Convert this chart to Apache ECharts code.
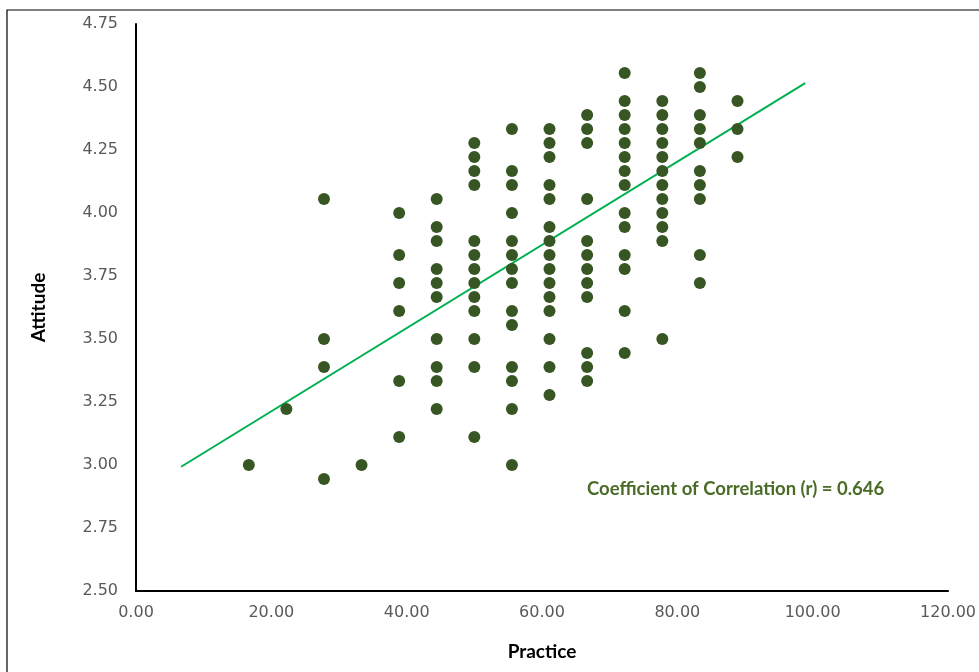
<!DOCTYPE html>
<html>
<head>
<meta charset="utf-8">
<script src="https://cdn.jsdelivr.net/npm/echarts@6/dist/echarts.min.js"></script>
<style>
html,body{margin:0;padding:0;background:#fff;}
#chart{width:979px;height:672px;}
</style>
</head>
<body>
<div id="chart"></div>
<script>
// Practice score levels (x) and the Attitude values (y) observed at each level
const practiceLevels = [16.67, 22.22, 27.78, 33.33, 38.89, 44.44, 50.00, 55.56, 61.11, 66.67, 72.22, 77.78, 83.33, 88.89];
const att_16 = [3.000];
const att_22 = [3.222];
const att_27 = [4.056, 3.500, 3.389, 2.944];
const att_33 = [3.000];
const att_38 = [4.000, 3.833, 3.722, 3.611, 3.333, 3.111];
const att_44 = [4.056, 3.944, 3.889, 3.778, 3.722, 3.667, 3.500, 3.389, 3.333, 3.222];
const att_50 = [4.278, 4.222, 4.167, 4.111, 3.889, 3.833, 3.778, 3.722, 3.667, 3.611, 3.500, 3.389, 3.111];
const att_55 = [4.333, 4.167, 4.111, 4.000, 3.889, 3.833, 3.778, 3.722, 3.611, 3.556, 3.389, 3.333, 3.222, 3.000];
const att_61 = [4.333, 4.278, 4.222, 4.111, 4.056, 3.944, 3.889, 3.833, 3.778, 3.722, 3.667, 3.611, 3.500, 3.389, 3.278];
const att_66 = [4.389, 4.333, 4.278, 4.056, 3.889, 3.833, 3.778, 3.722, 3.667, 3.444, 3.389, 3.333];
const att_72 = [4.556, 4.444, 4.389, 4.333, 4.278, 4.222, 4.167, 4.111, 4.000, 3.944, 3.833, 3.778, 3.611, 3.444];
const att_77 = [4.444, 4.389, 4.333, 4.278, 4.222, 4.167, 4.111, 4.056, 4.000, 3.944, 3.889, 3.500];
const att_83 = [4.556, 4.500, 4.389, 4.333, 4.278, 4.167, 4.111, 4.056, 3.833, 3.722];
const att_88 = [4.444, 4.333, 4.222];
const attitudeByLevel = [att_16, att_22, att_27, att_33, att_38, att_44, att_50, att_55, att_61, att_66, att_72, att_77, att_83, att_88];

// Linear trendline endpoints
const trendX = [6.67, 98.89];
const trendY = [2.993, 4.515];

const xTicks = [0, 20, 40, 60, 80, 100, 120];
const yTicks = [2.50, 2.75, 3.00, 3.25, 3.50, 3.75, 4.00, 4.25, 4.50, 4.75];

const points = [];
practiceLevels.forEach((p, i) => attitudeByLevel[i].forEach(a => points.push([p, a])));
const trend = trendX.map((x, i) => [x, trendY[i]]);

const chart = echarts.init(document.getElementById('chart'), null, {renderer: 'canvas'});
chart.setOption({
  animation: false,
  backgroundColor: '#ffffff',
  grid: {left: 136, right: 28, top: 24, bottom: 81},
  graphic: [
    {type: 'rect', shape: {x: 7, y: 10, width: 1100, height: 800},
     style: {fill: 'none', stroke: '#000', lineWidth: 1.2}, silent: true},
    {type: 'text', left: 587, top: 480,
     style: {text: 'Coefficient of Correlation (r) = 0.646', fill: '#4a6b26',
             font: 'bold 18.5px Lato, "Open Sans", sans-serif'}}
  ],
  xAxis: {
    type: 'value', min: xTicks[0], max: xTicks[xTicks.length - 1], interval: 20,
    name: 'Practice', nameLocation: 'middle', nameGap: 51,
    nameTextStyle: {fontFamily: 'Lato', fontWeight: 'bold', fontSize: 19, color: '#000'},
    axisLine: {show: true, lineStyle: {color: '#000', width: 2}},
    axisTick: {show: false},
    splitLine: {show: false},
    axisLabel: {formatter: v => v.toFixed(2), color: '#595959', fontFamily: 'DejaVu Sans', fontSize: 16, margin: 14}
  },
  yAxis: {
    type: 'value', min: yTicks[0], max: yTicks[yTicks.length - 1], interval: 0.25,
    name: 'Attitude', nameLocation: 'middle', nameGap: 88, nameRotate: 90,
    nameTextStyle: {fontFamily: 'Lato', fontWeight: 'bold', fontSize: 19, color: '#000'},
    axisLine: {show: true, lineStyle: {color: '#000', width: 2}},
    axisTick: {show: false},
    splitLine: {show: false},
    axisLabel: {formatter: v => v.toFixed(2), color: '#595959', fontFamily: 'DejaVu Sans', fontSize: 16, margin: 18}
  },
  series: [
    {type: 'line', data: trend, symbol: 'none', lineStyle: {color: '#00b050', width: 2}, z: 1, silent: true},
    {type: 'scatter', data: points, symbol: 'circle', symbolSize: 12,
     itemStyle: {color: '#375623', opacity: 1}, z: 2}
  ]
});
</script>
</body>
</html>
